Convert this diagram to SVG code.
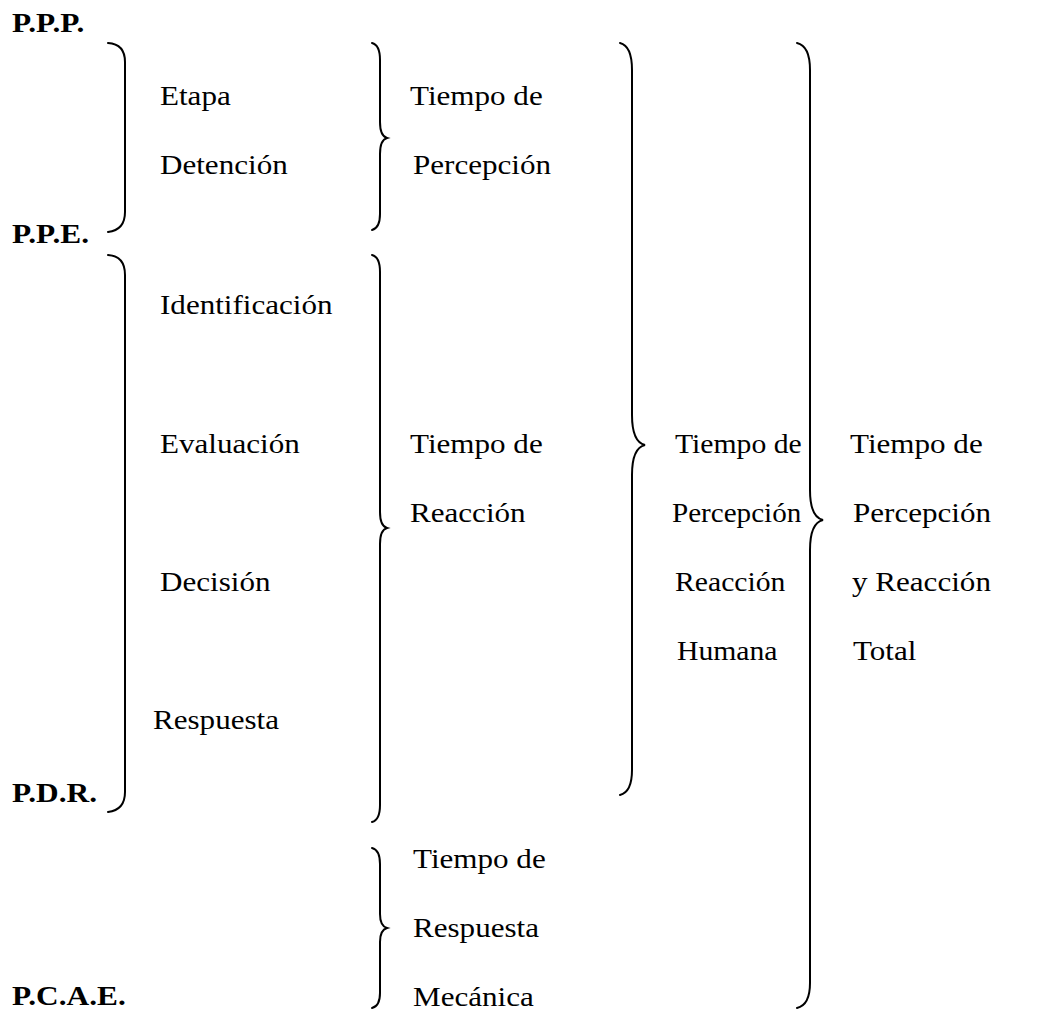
<svg xmlns="http://www.w3.org/2000/svg" width="1050" height="1010" viewBox="0 0 1050 1010">
<style>
text{font-family:"Liberation Serif","Times New Roman",serif;font-size:28px;fill:#000}
.b{font-weight:bold}
.br{fill:none;stroke:#000;stroke-width:2;stroke-linecap:round}
</style>
<rect width="1050" height="1010" fill="#fff"/>
<g id="labels">
<text class="b" transform="matrix(1.12 0 0 1 12 32)">P.P.P.</text>
<text class="b" transform="matrix(1.12 0 0 1 12 243)">P.P.E.</text>
<text class="b" transform="matrix(1.12 0 0 1 12 802)">P.D.R.</text>
<text class="b" transform="matrix(1.12 0 0 1 12 1005)">P.C.A.E.</text>
</g>
<g id="connectors">
<path class="br" d="M108,43 Q125,44 125,62 L125,212 Q125,230 108,232"/>
<path class="br" d="M108,255 Q125,256 125,275 L125,792 Q125,810 108,812"/>
<path class="br" d="M372,43 Q380,45 380,60 L380,122 Q380,136 387,138 Q380,140 380,154 L380,214 Q380,228 372,230"/>
<path class="br" d="M372,255 Q380,257 380,272 L380,512 Q380,526 387,528 Q380,530 380,544 L380,805 Q380,820 372,822"/>
<path class="br" d="M372,848 Q380,850 380,864 L380,914 Q380,926 387,928 Q380,930 380,942 L380,993 Q380,1006 372,1008"/>
<path class="br" d="M620,43 Q632,46 632,70 L632,415 Q632,442 645,445 Q632,448 632,475 L632,770 Q632,792 620,795"/>
<path class="br" d="M797,43 Q810,46 810,70 L810,490 Q810,517 823,520 Q810,523 810,550 L810,983 Q810,1005 797,1008"/>
</g>
<g id="n-etapa"><text transform="matrix(1.11 0 0 1 160 105)">Etapa</text><text transform="matrix(1.11 0 0 1 160 174)">Detención</text></g>
<g id="n-fases"><text transform="matrix(1.11 0 0 1 160 314)">Identificación</text><text transform="matrix(1.11 0 0 1 160 453)">Evaluación</text><text transform="matrix(1.11 0 0 1 160 591)">Decisión</text><text transform="matrix(1.11 0 0 1 153 729)">Respuesta</text></g>
<g id="n-percepcion"><text transform="matrix(1.11 0 0 1 410 105)">Tiempo de</text><text transform="matrix(1.11 0 0 1 413 174)">Percepción</text></g>
<g id="n-reaccion"><text transform="matrix(1.11 0 0 1 410 453)">Tiempo de</text><text transform="matrix(1.11 0 0 1 410 522)">Reacción</text></g>
<g id="n-mecanica"><text transform="matrix(1.11 0 0 1 413 868)">Tiempo de</text><text transform="matrix(1.11 0 0 1 413 937)">Respuesta</text><text transform="matrix(1.11 0 0 1 413 1006)">Mecánica</text></g>
<g id="n-prh"><text transform="matrix(1.06 0 0 1 675 453)">Tiempo de</text><text transform="matrix(1.04 0 0 1 672 522)">Percepción</text><text transform="matrix(1.06 0 0 1 675 591)">Reacción</text><text transform="matrix(1.06 0 0 1 677 660)">Humana</text></g>
<g id="n-total"><text transform="matrix(1.11 0 0 1 850 453)">Tiempo de</text><text transform="matrix(1.11 0 0 1 853 522)">Percepción</text><text transform="matrix(1.11 0 0 1 852 591)">y Reacción</text><text transform="matrix(1.11 0 0 1 853 660)">Total</text></g>
</svg>
